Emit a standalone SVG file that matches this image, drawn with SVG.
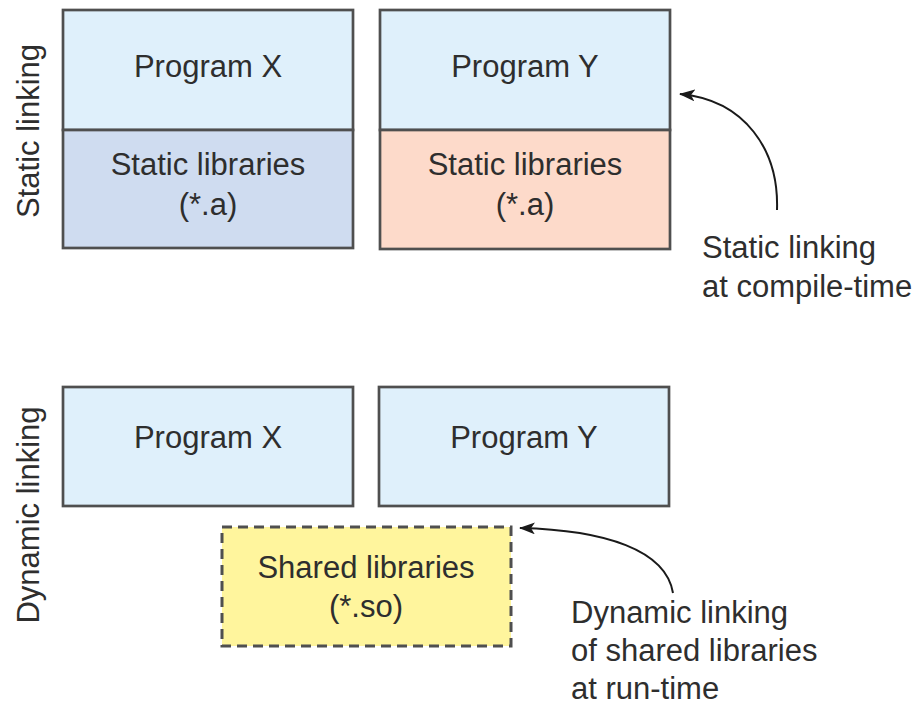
<svg xmlns="http://www.w3.org/2000/svg" width="919" height="706" viewBox="0 0 919 706">
<defs>
<style>
text{font-family:"Liberation Sans",Arial,sans-serif;font-size:31px;fill:#2e2e2e}
.c{text-anchor:middle}
.box{stroke:#4f4f4f;stroke-width:2.7}
.prog{fill:#dff0fb}
.libx{fill:#cfdcf0}
.liby{fill:#fddaca}
.shared{fill:#fff59d;stroke:#4f4f4f;stroke-width:3;stroke-dasharray:10 6}
.conn{fill:none;stroke:#1a1a1a;stroke-width:2;marker-end:url(#ah)}
</style>
<marker id="ah" viewBox="0 0 16 12" refX="15" refY="6" markerWidth="16" markerHeight="12" markerUnits="userSpaceOnUse" orient="auto">
<path d="M0,0 L16,6 L0,12 L4,6 Z" fill="#1a1a1a"/>
</marker>
</defs>
<rect width="919" height="706" fill="#ffffff"/>

<g id="label-static">
<text class="c" transform="translate(39,131) rotate(-90)">Static linking</text>
</g>
<g id="label-dynamic">
<text class="c" transform="translate(39,515) rotate(-90)">Dynamic linking</text>
</g>

<g id="static-program-x">
<rect class="box prog" x="63" y="10" width="290" height="120"/>
<text class="c" x="208" y="77">Program X</text>
</g>
<g id="static-libs-x">
<rect class="box libx" x="63" y="130" width="290" height="118"/>
<text class="c" x="208" y="175">Static libraries</text>
<text class="c" x="208" y="215">(*.a)</text>
</g>
<g id="static-program-y">
<rect class="box prog" x="380" y="10" width="290" height="120"/>
<text class="c" x="525" y="77">Program Y</text>
</g>
<g id="static-libs-y">
<rect class="box liby" x="380" y="130" width="290" height="119"/>
<text class="c" x="525" y="175">Static libraries</text>
<text class="c" x="525" y="215">(*.a)</text>
</g>

<g id="dynamic-program-x">
<rect class="box prog" x="63" y="387" width="290" height="119"/>
<text class="c" x="208" y="448">Program X</text>
</g>
<g id="dynamic-program-y">
<rect class="box prog" x="379" y="387" width="290" height="119"/>
<text class="c" x="524" y="448">Program Y</text>
</g>
<g id="shared-libs">
<rect class="shared" x="222" y="527" width="289" height="119"/>
<text class="c" x="366" y="578">Shared libraries</text>
<text class="c" x="366" y="617">(*.so)</text>
</g>

<g id="connectors">
<path class="conn" d="M777,210 C779,150 745,100 680,94"/>
<path class="conn" d="M673,593 C666,550 605,530 520,528"/>
</g>

<g id="note-static">
<text x="702" y="258">Static linking</text>
<text x="702" y="297">at compile-time</text>
</g>
<g id="note-dynamic">
<text x="571" y="623">Dynamic linking</text>
<text x="571" y="661">of shared libraries</text>
<text x="571" y="699">at run-time</text>
</g>
</svg>
